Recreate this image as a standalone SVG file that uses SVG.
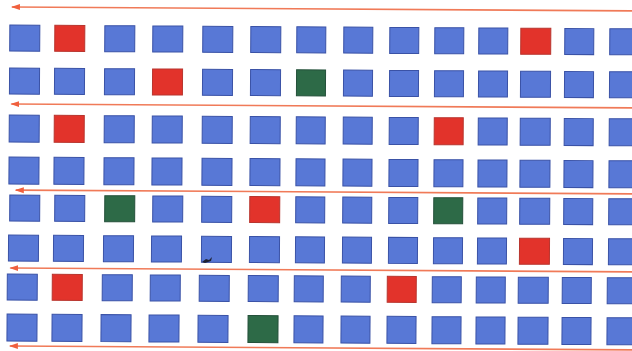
<svg xmlns="http://www.w3.org/2000/svg" width="632" height="351" viewBox="0 0 632 351">
<defs>
<style>
.b{fill:#5878d6;stroke:#3a52a6;stroke-width:1}
.r{fill:#e2332b;stroke:#b8352e;stroke-width:1}
.g{fill:#2d6a47;stroke:#24503a;stroke-width:1}
.a{stroke:#f07a58;stroke-width:1.6;fill:none}
</style>
<marker id="ah" markerWidth="9" markerHeight="7" refX="8" refY="3.5" orient="auto" markerUnits="userSpaceOnUse">
<path d="M0,0.5 L9,3.5 L0,6.5 Z" fill="#f0603e"/>
</marker>
</defs>
<rect width="632" height="351" fill="#ffffff"/>
<g transform="rotate(0.35 0 0)">
<g id="connectors">
<line class="a" x1="640" y1="7" x2="12" y2="7" marker-end="url(#ah)"/>
<line class="a" x1="640" y1="104" x2="12" y2="104" marker-end="url(#ah)"/>
<line class="a" x1="640" y1="190" x2="17" y2="190" marker-end="url(#ah)"/>
<line class="a" x1="640" y1="268" x2="12" y2="268" marker-end="url(#ah)"/>
<line class="a" x1="640" y1="346" x2="12" y2="346" marker-end="url(#ah)"/>
</g>
<g id="row1">
<g id="r1c0"><rect class="b" x="10" y="25" width="30" height="26"/></g>
<g id="r1c1"><rect class="r" x="55" y="25" width="30" height="26"/></g>
<g id="r1c2"><rect class="b" x="105" y="25" width="30" height="26"/></g>
<g id="r1c3"><rect class="b" x="153" y="25" width="30" height="26"/></g>
<g id="r1c4"><rect class="b" x="203" y="25" width="30" height="26"/></g>
<g id="r1c5"><rect class="b" x="251" y="25" width="30" height="26"/></g>
<g id="r1c6"><rect class="b" x="297" y="25" width="29" height="26"/></g>
<g id="r1c7"><rect class="b" x="344" y="25" width="29" height="26"/></g>
<g id="r1c8"><rect class="b" x="390" y="25" width="29" height="26"/></g>
<g id="r1c9"><rect class="b" x="435" y="25" width="29" height="26"/></g>
<g id="r1c10"><rect class="b" x="479" y="25" width="29" height="26"/></g>
<g id="r1c11"><rect class="r" x="521" y="25" width="30" height="26"/></g>
<g id="r1c12"><rect class="b" x="565" y="25" width="29" height="26"/></g>
<g id="r1c13"><rect class="b" x="610" y="25" width="30" height="26"/></g>
</g>
<g id="row2">
<g id="r2c0"><rect class="b" x="10" y="68" width="30" height="26"/></g>
<g id="r2c1"><rect class="b" x="55" y="68" width="30" height="26"/></g>
<g id="r2c2"><rect class="b" x="105" y="68" width="30" height="26"/></g>
<g id="r2c3"><rect class="r" x="153" y="68" width="30" height="26"/></g>
<g id="r2c4"><rect class="b" x="203" y="68" width="30" height="26"/></g>
<g id="r2c5"><rect class="b" x="251" y="68" width="30" height="26"/></g>
<g id="r2c6"><rect class="g" x="297" y="68" width="29" height="26"/></g>
<g id="r2c7"><rect class="b" x="344" y="68" width="29" height="26"/></g>
<g id="r2c8"><rect class="b" x="390" y="68" width="29" height="26"/></g>
<g id="r2c9"><rect class="b" x="435" y="68" width="29" height="26"/></g>
<g id="r2c10"><rect class="b" x="479" y="68" width="29" height="26"/></g>
<g id="r2c11"><rect class="b" x="521" y="68" width="30" height="26"/></g>
<g id="r2c12"><rect class="b" x="565" y="68" width="29" height="26"/></g>
<g id="r2c13"><rect class="b" x="610" y="68" width="30" height="26"/></g>
</g>
<g id="row3">
<g id="r3c0"><rect class="b" x="10" y="115" width="30" height="27"/></g>
<g id="r3c1"><rect class="r" x="55" y="115" width="30" height="27"/></g>
<g id="r3c2"><rect class="b" x="105" y="115" width="30" height="27"/></g>
<g id="r3c3"><rect class="b" x="153" y="115" width="30" height="27"/></g>
<g id="r3c4"><rect class="b" x="203" y="115" width="30" height="27"/></g>
<g id="r3c5"><rect class="b" x="251" y="115" width="30" height="27"/></g>
<g id="r3c6"><rect class="b" x="297" y="115" width="29" height="27"/></g>
<g id="r3c7"><rect class="b" x="344" y="115" width="29" height="27"/></g>
<g id="r3c8"><rect class="b" x="390" y="115" width="29" height="27"/></g>
<g id="r3c9"><rect class="r" x="435" y="115" width="29" height="27"/></g>
<g id="r3c10"><rect class="b" x="479" y="115" width="29" height="27"/></g>
<g id="r3c11"><rect class="b" x="521" y="115" width="30" height="27"/></g>
<g id="r3c12"><rect class="b" x="565" y="115" width="29" height="27"/></g>
<g id="r3c13"><rect class="b" x="610" y="115" width="30" height="27"/></g>
</g>
<g id="row4">
<g id="r4c0"><rect class="b" x="10" y="157" width="30" height="27"/></g>
<g id="r4c1"><rect class="b" x="55" y="157" width="30" height="27"/></g>
<g id="r4c2"><rect class="b" x="105" y="157" width="30" height="27"/></g>
<g id="r4c3"><rect class="b" x="153" y="157" width="30" height="27"/></g>
<g id="r4c4"><rect class="b" x="203" y="157" width="30" height="27"/></g>
<g id="r4c5"><rect class="b" x="251" y="157" width="30" height="27"/></g>
<g id="r4c6"><rect class="b" x="297" y="157" width="29" height="27"/></g>
<g id="r4c7"><rect class="b" x="344" y="157" width="29" height="27"/></g>
<g id="r4c8"><rect class="b" x="390" y="157" width="29" height="27"/></g>
<g id="r4c9"><rect class="b" x="435" y="157" width="29" height="27"/></g>
<g id="r4c10"><rect class="b" x="479" y="157" width="29" height="27"/></g>
<g id="r4c11"><rect class="b" x="521" y="157" width="30" height="27"/></g>
<g id="r4c12"><rect class="b" x="565" y="157" width="29" height="27"/></g>
<g id="r4c13"><rect class="b" x="610" y="157" width="30" height="27"/></g>
</g>
<g id="row5">
<g id="r5c0"><rect class="b" x="11" y="195" width="30" height="26"/></g>
<g id="r5c1"><rect class="b" x="56" y="195" width="30" height="26"/></g>
<g id="r5c2"><rect class="g" x="106" y="195" width="30" height="26"/></g>
<g id="r5c3"><rect class="b" x="154" y="195" width="30" height="26"/></g>
<g id="r5c4"><rect class="b" x="203" y="195" width="30" height="26"/></g>
<g id="r5c5"><rect class="r" x="251" y="195" width="30" height="26"/></g>
<g id="r5c6"><rect class="b" x="297" y="195" width="29" height="26"/></g>
<g id="r5c7"><rect class="b" x="344" y="195" width="29" height="26"/></g>
<g id="r5c8"><rect class="b" x="390" y="195" width="29" height="26"/></g>
<g id="r5c9"><rect class="g" x="435" y="195" width="29" height="26"/></g>
<g id="r5c10"><rect class="b" x="479" y="195" width="29" height="26"/></g>
<g id="r5c11"><rect class="b" x="521" y="195" width="30" height="26"/></g>
<g id="r5c12"><rect class="b" x="565" y="195" width="29" height="26"/></g>
<g id="r5c13"><rect class="b" x="610" y="195" width="30" height="26"/></g>
</g>
<g id="row6">
<g id="r6c0"><rect class="b" x="10" y="235" width="30" height="26"/></g>
<g id="r6c1"><rect class="b" x="55" y="235" width="30" height="26"/></g>
<g id="r6c2"><rect class="b" x="105" y="235" width="30" height="26"/></g>
<g id="r6c3"><rect class="b" x="153" y="235" width="30" height="26"/></g>
<g id="r6c4"><rect class="b" x="203" y="235" width="30" height="26"/></g>
<g id="r6c5"><rect class="b" x="251" y="235" width="30" height="26"/></g>
<g id="r6c6"><rect class="b" x="297" y="235" width="29" height="26"/></g>
<g id="r6c7"><rect class="b" x="344" y="235" width="29" height="26"/></g>
<g id="r6c8"><rect class="b" x="390" y="235" width="29" height="26"/></g>
<g id="r6c9"><rect class="b" x="435" y="235" width="29" height="26"/></g>
<g id="r6c10"><rect class="b" x="479" y="235" width="29" height="26"/></g>
<g id="r6c11"><rect class="r" x="521" y="235" width="30" height="26"/></g>
<g id="r6c12"><rect class="b" x="565" y="235" width="29" height="26"/></g>
<g id="r6c13"><rect class="b" x="610" y="235" width="30" height="26"/></g>
</g>
<g id="row7">
<g id="r7c0"><rect class="b" x="9" y="274" width="30" height="26"/></g>
<g id="r7c1"><rect class="r" x="54" y="274" width="30" height="26"/></g>
<g id="r7c2"><rect class="b" x="104" y="274" width="30" height="26"/></g>
<g id="r7c3"><rect class="b" x="152" y="274" width="30" height="26"/></g>
<g id="r7c4"><rect class="b" x="201" y="274" width="30" height="26"/></g>
<g id="r7c5"><rect class="b" x="250" y="274" width="30" height="26"/></g>
<g id="r7c6"><rect class="b" x="296" y="274" width="29" height="26"/></g>
<g id="r7c7"><rect class="b" x="343" y="274" width="29" height="26"/></g>
<g id="r7c8"><rect class="r" x="389" y="274" width="29" height="26"/></g>
<g id="r7c9"><rect class="b" x="434" y="274" width="29" height="26"/></g>
<g id="r7c10"><rect class="b" x="478" y="274" width="29" height="26"/></g>
<g id="r7c11"><rect class="b" x="520" y="274" width="30" height="26"/></g>
<g id="r7c12"><rect class="b" x="564" y="274" width="29" height="26"/></g>
<g id="r7c13"><rect class="b" x="609" y="274" width="30" height="26"/></g>
</g>
<g id="row8">
<g id="r8c0"><rect class="b" x="9" y="314" width="30" height="27"/></g>
<g id="r8c1"><rect class="b" x="54" y="314" width="30" height="27"/></g>
<g id="r8c2"><rect class="b" x="103" y="314" width="30" height="27"/></g>
<g id="r8c3"><rect class="b" x="151" y="314" width="30" height="27"/></g>
<g id="r8c4"><rect class="b" x="200" y="314" width="30" height="27"/></g>
<g id="r8c5"><rect class="g" x="250" y="314" width="30" height="27"/></g>
<g id="r8c6"><rect class="b" x="296" y="314" width="29" height="27"/></g>
<g id="r8c7"><rect class="b" x="343" y="314" width="29" height="27"/></g>
<g id="r8c8"><rect class="b" x="389" y="314" width="29" height="27"/></g>
<g id="r8c9"><rect class="b" x="434" y="314" width="29" height="27"/></g>
<g id="r8c10"><rect class="b" x="478" y="314" width="29" height="27"/></g>
<g id="r8c11"><rect class="b" x="520" y="314" width="30" height="27"/></g>
<g id="r8c12"><rect class="b" x="564" y="314" width="29" height="27"/></g>
<g id="r8c13"><rect class="b" x="609" y="314" width="30" height="27"/></g>
</g>
</g>
<path d="M202,262 L206,259 L209,260 L212,257 L211,261 L205,263 Z" fill="#1e2233"/>
</svg>
